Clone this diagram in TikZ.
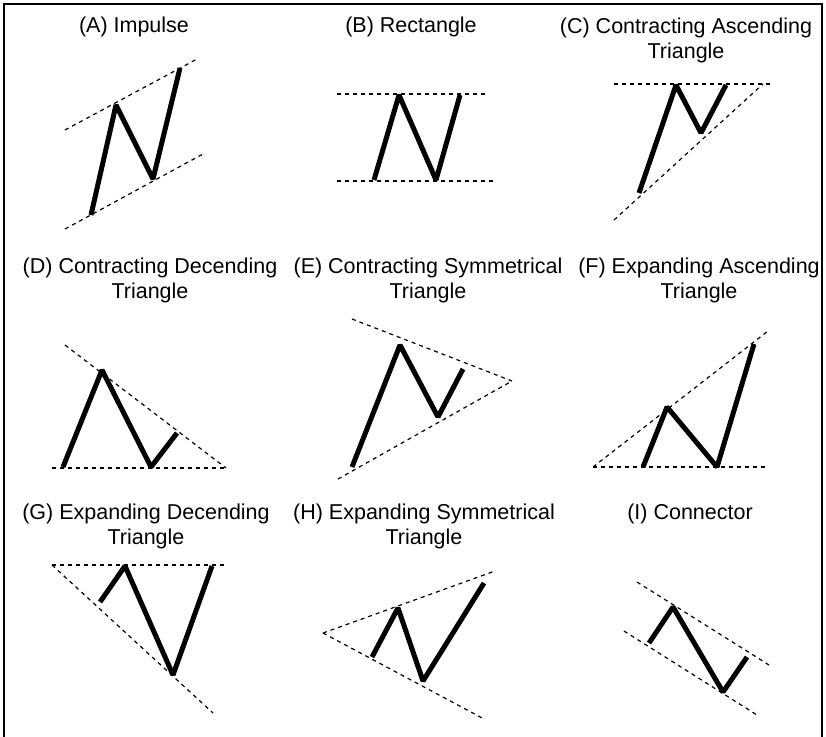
\documentclass[tikz,border=0pt]{standalone}
\usepackage{fontspec}
\setmainfont{Liberation Sans}
\begin{document}
\begin{tikzpicture}[x=1pt,y=-1pt,
  frame/.style={line width=1.4pt},
  guide/.style={line width=1.2pt,dash pattern=on 4pt off 4pt},
  wave/.style={line width=5pt,line join=bevel},
  title/.style={align=center,inner sep=0pt,font=\fontsize{21.5}{25}\selectfont}]
\useasboundingbox (0,0) rectangle (826,736);
% frame
\coordinate (f1) at (4,740);
\coordinate (f2) at (4,4);
\coordinate (f3) at (822,4);
\coordinate (f4) at (822,740);
\draw[frame] (f1) -- (f2) -- (f3) -- (f4);

% titles
\node[title] (tA) at (134,27) {(A) Impulse};
\node[title] (tB) at (411,27) {(B) Rectangle};
\node[title] (tC) at (686,40) {(C) Contracting Ascending\\Triangle};
\node[title] (tD) at (150,280) {(D) Contracting Decending\\Triangle};
\node[title] (tE) at (428,280) {(E) Contracting Symmetrical\\Triangle};
\node[title] (tF) at (699,280) {(F) Expanding Ascending\\Triangle};
\node[title] (tG) at (146,526) {(G) Expanding Decending\\Triangle};
\node[title] (tH) at (424,526) {(H) Expanding Symmetrical\\Triangle};
\node[title] (tI) at (690,514) {(I) Connector};

% (A) Impulse
\coordinate (a1) at (65,130); \coordinate (a2) at (197,59);
\coordinate (a3) at (65,229); \coordinate (a4) at (203,154);
\draw[guide] (a1) -- (a2);
\draw[guide] (a3) -- (a4);
\coordinate (aw1) at (91,215); \coordinate (aw2) at (116,105);
\coordinate (aw3) at (153,179); \coordinate (aw4) at (180,68);
\draw[wave] (aw1) -- (aw2) -- (aw3) -- (aw4);

% (B) Rectangle
\coordinate (b1) at (337,94); \coordinate (b2) at (486,94);
\coordinate (b3) at (337,181); \coordinate (b4) at (495,181);
\draw[guide] (b1) -- (b2);
\draw[guide] (b3) -- (b4);
\coordinate (bw1) at (374,180); \coordinate (bw2) at (399,95);
\coordinate (bw3) at (436,180); \coordinate (bw4) at (460,95);
\draw[wave] (bw1) -- (bw2) -- (bw3) -- (bw4);

% (C) Contracting Ascending Triangle
\coordinate (c1) at (614,84); \coordinate (c2) at (772,84);
\coordinate (c3) at (614,220); \coordinate (c4) at (763,84);
\draw[guide] (c1) -- (c2);
\draw[guide] (c3) -- (c4);
\coordinate (cw1) at (639,193); \coordinate (cw2) at (676,85);
\coordinate (cw3) at (701,133); \coordinate (cw4) at (726,85);
\draw[wave] (cw1) -- (cw2) -- (cw3) -- (cw4);

% (D) Contracting Decending Triangle
\coordinate (d1) at (52,468); \coordinate (d2) at (226,468);
\coordinate (d3) at (65,345);
\draw[guide] (d1) -- (d2);
\draw[guide] (d3) -- (d2);
\coordinate (dw1) at (63,467); \coordinate (dw2) at (102,370);
\coordinate (dw3) at (151,467); \coordinate (dw4) at (177,433);
\draw[wave] (dw1) -- (dw2) -- (dw3) -- (dw4);

% (E) Contracting Symmetrical Triangle
\coordinate (e1) at (352,319); \coordinate (e2) at (512,381);
\coordinate (e3) at (338,479);
\draw[guide] (e1) -- (e2);
\draw[guide] (e3) -- (e2);
\coordinate (ew1) at (352,467); \coordinate (ew2) at (400,345);
\coordinate (ew3) at (438,417); \coordinate (ew4) at (463,369);
\draw[wave] (ew1) -- (ew2) -- (ew3) -- (ew4);

% (F) Expanding Ascending Triangle
\coordinate (g1) at (593,467); \coordinate (g2) at (767,467);
\coordinate (g3) at (768,331);
\draw[guide] (g1) -- (g2);
\draw[guide] (g1) -- (g3);
\coordinate (fw1) at (643,467); \coordinate (fw2) at (667,407);
\coordinate (fw3) at (717,467); \coordinate (fw4) at (754,344);
\draw[wave] (fw1) -- (fw2) -- (fw3) -- (fw4);

% (G) Expanding Decending Triangle
\coordinate (h1) at (52,565); \coordinate (h2) at (226,565);
\coordinate (h3) at (213,713);
\draw[guide] (h1) -- (h2);
\draw[guide] (h1) -- (h3);
\coordinate (gw1) at (100,602); \coordinate (gw2) at (125,566);
\coordinate (gw3) at (173,675); \coordinate (gw4) at (212,566);
\draw[wave] (gw1) -- (gw2) -- (gw3) -- (gw4);

% (H) Expanding Symmetrical Triangle
\coordinate (k1) at (323,633); \coordinate (k2) at (495,571);
\coordinate (k3) at (484,719);
\draw[guide] (k1) -- (k2);
\draw[guide] (k1) -- (k3);
\coordinate (hw1) at (372,657); \coordinate (hw2) at (398,608);
\coordinate (hw3) at (423,681); \coordinate (hw4) at (484,583);
\draw[wave] (hw1) -- (hw2) -- (hw3) -- (hw4);

% (I) Connector
\coordinate (m1) at (637,582); \coordinate (m2) at (769,665);
\coordinate (m3) at (624,631); \coordinate (m4) at (757,715);
\draw[guide] (m1) -- (m2);
\draw[guide] (m3) -- (m4);
\coordinate (iw1) at (649,643); \coordinate (iw2) at (673,607);
\coordinate (iw3) at (723,692); \coordinate (iw4) at (747,657);
\draw[wave] (iw1) -- (iw2) -- (iw3) -- (iw4);
\end{tikzpicture}
\end{document}
